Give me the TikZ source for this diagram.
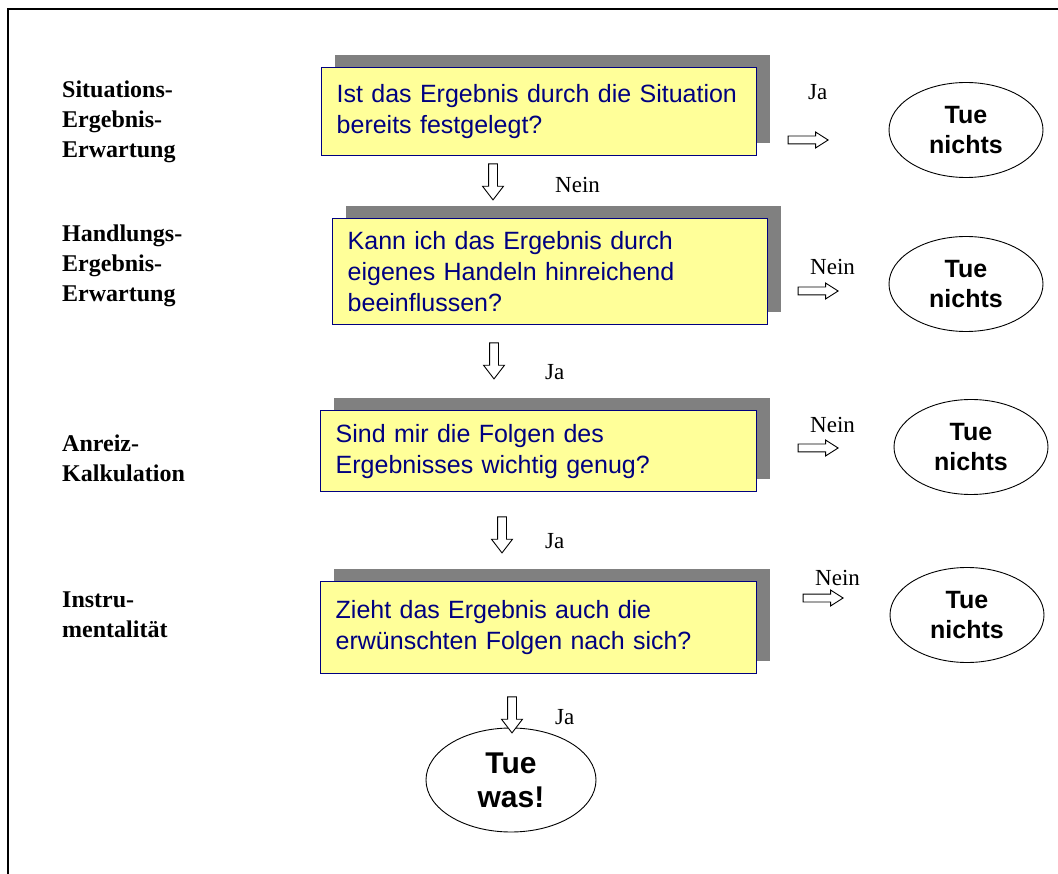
\documentclass[tikz,border=0pt]{standalone}
\usepackage{fontspec}
\setmainfont{Liberation Serif}
\setsansfont{Liberation Sans}
\usepackage{tikz}
\usetikzlibrary{positioning, shapes.geometric, shapes.arrows, shadows}
\definecolor{gelb}{RGB}{255,255,153}
\definecolor{marine}{RGB}{0,0,128}
\definecolor{schatten}{RGB}{128,128,128}

\begin{document}
\begin{tikzpicture}[
        x=1pt, y=-1pt,
        frage/.style={draw=marine, line width=1.4pt, fill=gelb, text=marine, align=left, anchor=north west,
            font=\sffamily\fontsize{25}{31}\selectfont, inner xsep=15pt, inner ysep=0pt,
            drop shadow={shadow xshift=13.5pt, shadow yshift=12.5pt, fill=schatten, opacity=1}},
        ergebnis/.style={ellipse, draw, line width=0.9pt, align=center, inner sep=0pt,
            font=\sffamily\bfseries\fontsize{25}{30}\selectfont, minimum width=154pt, minimum height=95pt},
        stufe/.style={font=\bfseries\fontsize{24}{30}\selectfont, align=left, anchor=north west, inner sep=0pt},
        antwort/.style={font=\fontsize{23}{28}\selectfont, anchor=base west, inner sep=0pt},
        pfeilab/.style={single arrow, draw, fill=white, line width=0.9pt, rotate=-90, minimum height=36pt,
            minimum width=0pt, inner xsep=0pt, inner ysep=4pt, single arrow head extend=6pt, single arrow tip angle=75},
        pfeilre/.style={single arrow, draw, fill=white, line width=0.9pt, minimum height=40pt,
            minimum width=0pt, inner xsep=0pt, inner ysep=3.5pt, single arrow head extend=4pt, single arrow tip angle=65}
    ]
        \useasboundingbox (0,0) rectangle (1058,874);
        \draw[line width=1.6pt] (8,874) -- (8,9) -- (1058,9);

        % Stufen
        \node[stufe] (s1) at (62,81) {Situations-\\Ergebnis-\\Erwartung};
        \node[stufe] (s2) at (62,225) {Handlungs-\\Ergebnis-\\Erwartung};
        \node[stufe] (s3) at (62,435) {Anreiz-\\Kalkulation};
        \node[stufe] (s4) at (62,592) {Instru-\\mentalität};

        % Fragen
        \node[frage, text width=405pt, minimum height=88pt] (f1) at (321,67) {Ist das Ergebnis durch die Situation\\bereits festgelegt?};
        \node[frage, text width=405pt, minimum height=106pt] (f2) at (332,218) {Kann ich das Ergebnis durch\\eigenes Handeln hinreichend\\beeinflussen?};
        \node[frage, text width=406pt, minimum height=81pt] (f3) at (320,410) {Sind mir die Folgen des\\Ergebnisses wichtig genug?};
        \node[frage, text width=406pt, minimum height=92pt] (f4) at (320,581) {Zieht das Ergebnis auch die\\erwünschten Folgen nach sich?};

        % Ergebnisse
        \node[ergebnis] (e1) at (966,130) {Tue\\nichts};
        \node[ergebnis] (e2) at (966,284) {Tue\\nichts};
        \node[ergebnis] (e3) at (971,447) {Tue\\nichts};
        \node[ergebnis] (e4) at (967,615) {Tue\\nichts};
        \node[ergebnis, minimum width=170pt, minimum height=104pt,
            font=\sffamily\bfseries\fontsize{30}{34}\selectfont] (tun) at (511,780) {Tue\\was!};

        % Pfeile
        \node[pfeilab] (a1) at (493,179) {};
        \node[pfeilab] (a2) at (494,358) {};
        \node[pfeilab] (a3) at (502,532) {};
        \node[pfeilab] (a4) at (512,712) {};
        \node[pfeilre] (r1) at (805,140) {};
        \node[pfeilre] (r2) at (815,291) {};
        \node[pfeilre] (r3) at (815,448) {};
        \node[pfeilre] (r4) at (820,598) {};

        % Antworten
        \node[antwort] (n1) at (555,193) {Nein};
        \node[antwort] (j2) at (545,380) {Ja};
        \node[antwort] (j3) at (545,548) {Ja};
        \node[antwort] (j4) at (555,724) {Ja};
        \node[antwort] (j1) at (808,100) {Ja};
        \node[antwort] (n2) at (810,275) {Nein};
        \node[antwort] (n3) at (810,433) {Nein};
        \node[antwort] (n4) at (815,585) {Nein};
\end{tikzpicture}
\end{document}
